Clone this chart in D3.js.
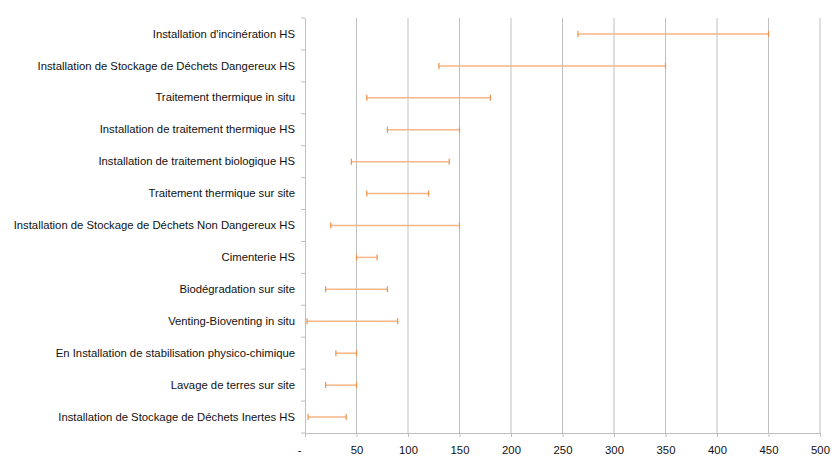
<!DOCTYPE html>
<html>
<head>
<meta charset="utf-8">
<script src="https://cdn.jsdelivr.net/npm/d3@7"></script>
<style>
  body { margin: 0; background: #fff; }
  svg text { font-family: "Liberation Sans", Arial, sans-serif; fill: #111; }
</style>
</head>
<body>
<div id="chart"></div>
<script>
// catégories, de haut en bas
const categories = [
  "Installation d'incinération HS",
  "Installation de Stockage de Déchets Dangereux HS",
  "Traitement thermique in situ",
  "Installation de traitement thermique HS",
  "Installation de traitement biologique HS",
  "Traitement thermique sur site",
  "Installation de Stockage de Déchets Non Dangereux HS",
  "Cimenterie HS",
  "Biodégradation sur site",
  "Venting-Bioventing in situ",
  "En Installation de stabilisation physico-chimique",
  "Lavage de terres sur site",
  "Installation de Stockage de Déchets Inertes HS"
];
const minValues = [265, 130, 60, 80, 45, 60, 25, 50, 20, 2, 30, 20, 3];
const maxValues = [450, 350, 180, 150, 140, 120, 150, 70, 80, 90, 50, 50, 40];
const xTicks = [0, 50, 100, 150, 200, 250, 300, 350, 400, 450, 500];

const width = 838, height = 467;
const margin = { top: 18, right: 18, bottom: 34, left: 305 };
const w = width - margin.left - margin.right;
const h = height - margin.top - margin.bottom;

const svg = d3.select('#chart').append('svg')
  .attr('width', width)
  .attr('height', height);

const g = svg.append('g')
  .attr('transform', `translate(${margin.left},${margin.top})`);

const x = d3.scaleLinear().domain([0, 500]).range([0, w]);
const y = d3.scaleBand().domain(categories).range([0, h]);

// grille verticale
g.selectAll('.grid')
  .data(xTicks.slice(1))
  .enter().append('line')
  .attr('x1', d => x(d)).attr('x2', d => x(d))
  .attr('y1', 0).attr('y2', h)
  .attr('stroke', '#bfbfbf')
  .attr('stroke-width', 1);

// axe x
const xAxis = g.append('g')
  .attr('transform', `translate(0,${h})`)
  .call(d3.axisBottom(x).tickValues(xTicks).tickSize(4).tickPadding(9)
    .tickFormat(d => d === 0 ? '-' : d));
xAxis.select('.domain').attr('stroke', '#bfbfbf');
xAxis.selectAll('.tick line').attr('stroke', '#bfbfbf');
xAxis.selectAll('text').attr('font-size', '11.3px').attr('fill', '#111');
xAxis.selectAll('.tick text').filter(d => d === 0).attr('dx', -6);

// axe y
const yAxis = g.append('g')
  .call(d3.axisLeft(y).tickSize(0).tickPadding(10));
yAxis.select('.domain').attr('stroke', '#bfbfbf');
yAxis.selectAll('text').attr('font-size', '11.3px').attr('fill', '#111');

// petites graduations entre catégories
g.selectAll('.ytick')
  .data(d3.range(categories.length + 1))
  .enter().append('line')
  .attr('x1', -4).attr('x2', 0)
  .attr('y1', i => i * y.step()).attr('y2', i => i * y.step())
  .attr('stroke', '#bfbfbf');

// barres d'intervalle
const rows = categories.map((c, i) => ({ c, lo: minValues[i], hi: maxValues[i] }));
const bar = g.selectAll('.range')
  .data(rows)
  .enter().append('g')
  .attr('transform', d => `translate(0,${y(d.c) + y.bandwidth() / 2})`);

bar.append('line')
  .attr('x1', d => x(d.lo)).attr('x2', d => x(d.hi))
  .attr('stroke', '#f6b686')
  .attr('stroke-width', 1.5);

bar.selectAll('.cap')
  .data(d => [d.lo, d.hi])
  .enter().append('line')
  .attr('x1', v => x(v)).attr('x2', v => x(v))
  .attr('y1', -3).attr('y2', 3)
  .attr('stroke', '#f0904a')
  .attr('stroke-width', 1.2);
</script>
</body>
</html>
